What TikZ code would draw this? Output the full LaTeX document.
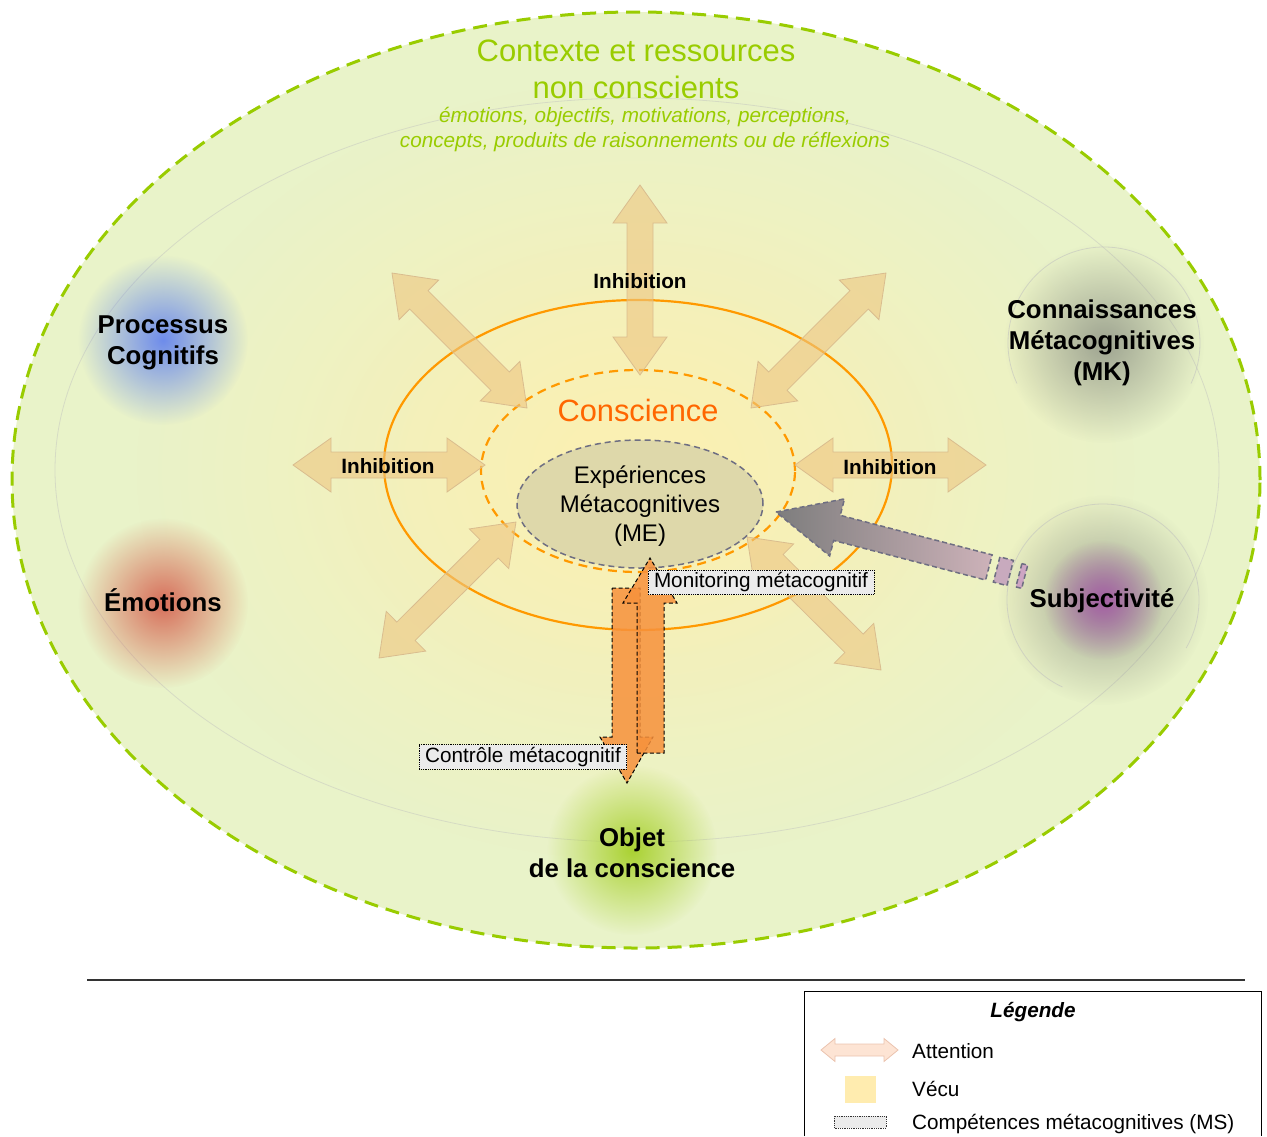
\documentclass[tikz,border=0pt]{standalone}
\usepackage{fontspec}
\setmainfont{Liberation Sans}
\usetikzlibrary{fadings}
\tikzfading[name=blobfade, inner color=transparent!0, outer color=transparent!100]
\definecolor{bggreen}{RGB}{233,243,201}
\definecolor{ctxgreen}{RGB}{153,204,0}
\definecolor{vecu}{RGB}{252,240,178}
\definecolor{consorange}{RGB}{255,153,0}
\definecolor{constext}{RGB}{255,102,0}
\definecolor{mefill}{RGB}{222,216,170}
\definecolor{meline}{RGB}{110,110,130}
\definecolor{attnfill}{RGB}{237,198,130}
\definecolor{attnline}{RGB}{215,185,140}
\definecolor{ctrlorange}{RGB}{247,145,60}
\definecolor{lblgray}{RGB}{235,235,235}
\definecolor{procblue}{RGB}{110,140,235}
\definecolor{emored}{RGB}{215,110,90}
\definecolor{mkgray}{RGB}{145,150,135}
\definecolor{subjpurple}{RGB}{165,95,165}
\definecolor{objgreen}{RGB}{170,210,50}
\definecolor{arrgray}{RGB}{125,125,125}
\definecolor{arrpink}{RGB}{205,178,185}
\definecolor{arrmauve}{RGB}{200,170,190}
\definecolor{arrmauve2}{RGB}{205,165,195}
\definecolor{legattn}{RGB}{253,228,212}
\definecolor{legattnline}{RGB}{235,195,175}
\definecolor{legvecu}{RGB}{255,236,175}
\tikzset{
  attn/.style={fill=attnfill, fill opacity=0.6, draw=attnline, draw opacity=0.9, line width=0.8pt},
  legarrow/.style={fill=legattn, draw=legattnline, line width=0.8pt},
  ctrl/.style={fill=ctrlorange, fill opacity=0.85, draw=black, dash pattern=on 4pt off 2.5pt, line width=1pt},
  lbl/.style={font=\fontsize{20.7}{24}\selectfont, fill=lblgray, draw=black, densely dotted, line width=0.8pt,
              inner xsep=6pt, inner ysep=2.5pt, text height=15pt, text depth=4.5pt},
  bigl/.style={font=\fontsize{25.8}{31}\selectfont\bfseries, align=center},
  inh/.style={font=\fontsize{20.7}{24}\selectfont\bfseries},
  legtext/.style={font=\fontsize{20.7}{24}\selectfont, anchor=base west, inner sep=0pt},
  blobring/.style={draw=gray!50, line width=0.8pt, draw opacity=0.55},
}
% double arrow between two points (pixel coords, y down)
\newcommand{\dblarrow}[8]{%
  \pgfmathsetmacro{\aang}{atan2((#3)-(#5),(#4)-(#2))}%
  \pgfmathsetmacro{\alen}{veclen((#4)-(#2),(#5)-(#3))}%
  \begin{scope}[shift={(#2,#3)}, rotate=\aang]
    \filldraw[#1] (0,0) -- (#6,#7) -- (#6,#8) -- (\alen-#6,#8) -- (\alen-#6,#7) -- (\alen,0)
      -- (\alen-#6,-#7) -- (\alen-#6,-#8) -- (#6,-#8) -- (#6,-#7) -- cycle;
  \end{scope}}
\begin{document}
\begin{tikzpicture}[x=1pt,y=-1pt]
\useasboundingbox (0,0) rectangle (1267,1136);

% outer context ellipse
\fill[bggreen] (636,480) ellipse [x radius=624pt, y radius=468pt];
\begin{scope}
  \clip (636,480) ellipse [x radius=624pt, y radius=468pt];
  \fill[vecu, path fading=blobfade] (637,470) ellipse [x radius=500pt, y radius=390pt];
  \fill[vecu, path fading=blobfade, opacity=0.5] (637,470) ellipse [x radius=300pt, y radius=230pt];
\end{scope}
% faint inner ellipse
\draw[gray!50, line width=0.8pt, draw opacity=0.45] (637,470) ellipse [x radius=582pt, y radius=372pt];

% blobs
\coordinate (mkc) at (1104,343);
\coordinate (subjc) at (1103,600);
\fill[procblue, path fading=blobfade] (163,340) circle (85pt);
\fill[emored, path fading=blobfade] (163,603) circle (85pt);
\fill[mkgray, path fading=blobfade, opacity=0.85] (mkc) circle (100pt);
\fill[mkgray, path fading=blobfade, opacity=0.85] (subjc) circle (105pt);
\fill[subjpurple, path fading=blobfade] (subjc) circle (60pt);
\fill[objgreen, path fading=blobfade] (632,850) circle (85pt);
\draw[blobring] (mkc) ++(205:96pt) arc[start angle=205, end angle=-25, radius=96pt];
\draw[blobring] (subjc) ++(245:96pt) arc[start angle=245, end angle=-30, radius=96pt];

% conscience ellipses
\draw[consorange, line width=2.2pt] (638,465) ellipse [x radius=254pt, y radius=165pt];
\draw[consorange, line width=2.2pt, dash pattern=on 9pt off 6pt] (638,471) ellipse [x radius=157pt, y radius=101pt];
\coordinate (mecenter) at (640,504);
\filldraw[fill=mefill, draw=meline, line width=1.5pt, dash pattern=on 6pt off 4pt] (mecenter) ellipse [x radius=123pt, y radius=64pt];

% attention / inhibition arrows
\dblarrow{attn}{640}{185}{640}{375}{38}{27}{13}
\dblarrow{attn}{392}{273}{527}{408}{38}{28}{13}
\dblarrow{attn}{886}{273}{751}{408}{38}{28}{13}
\dblarrow{attn}{293}{465}{485}{465}{38}{27}{13}
\dblarrow{attn}{795}{465}{986}{465}{38}{27}{13}
\dblarrow{attn}{379}{658}{516}{522}{38}{28}{13}
\dblarrow{attn}{881}{670}{747}{537}{38}{28}{13}

\node[inh] (inhtop) at (640,281) {Inhibition};
\node[inh] (inhleft) at (388,466) {Inhibition};
\node[inh] (inhright) at (890,467) {Inhibition};

% outer dashed border
\draw[ctxgreen, line width=3pt, dash pattern=on 14pt off 8pt] (636,480) ellipse [x radius=624pt, y radius=468pt];

% texts
\node[text=ctxgreen, font=\fontsize{31}{37}\selectfont, align=center] (ctx) at (636,69) {Contexte et ressources\\non conscients};
\node[text=ctxgreen, font=\fontsize{20.7}{25}\selectfont\itshape, align=center] (ctxsub) at (645,130)
  {émotions, objectifs, motivations, perceptions,\\concepts, produits de raisonnements ou de réflexions};
\node[text=constext, font=\fontsize{30.8}{36}\selectfont] (cons) at (638,410) {Conscience};
\node[font=\fontsize{24}{29}\selectfont, align=center] (me) at (640,506) {Expériences\\Métacognitives\\(ME)};

% control / monitoring arrows
\coordinate (ctrltip) at (627,783);
\coordinate (montip) at (650,558);
\filldraw[ctrl] (612,588) -- (640,588) -- (640,737) -- (653,737) -- (ctrltip) -- (600,737) -- (612,737) -- cycle;
\filldraw[ctrl] (637,753) -- (637,603) -- (623,603) -- (montip) -- (677,603) -- (664,603) -- (664,753) -- cycle;
\node[lbl] (monlbl) at (761,582.5) {Monitoring métacognitif};
\node[lbl] (ctrllbl) at (523,757) {Contrôle métacognitif};

% subjectivity arrow
\coordinate (subjtip) at (776,512);
\begin{scope}[shift={(subjtip)}, rotate=-14.6]
  \shade[left color=arrgray, right color=arrpink]
    (0,0) -- (63,-30) -- (63,-13) -- (220,-13) -- (220,13) -- (63,13) -- (63,29) -- cycle;
  \draw[meline, line width=1.5pt, dash pattern=on 5pt off 3pt]
    (0,0) -- (63,-30) -- (63,-13) -- (220,-13) -- (220,13) -- (63,13) -- (63,29) -- cycle;
  \filldraw[fill=arrmauve, draw=meline, line width=1.5pt, dash pattern=on 5pt off 3pt] (228,-13) rectangle (242,13);
  \filldraw[fill=arrmauve2, draw=meline, line width=1.5pt, dash pattern=on 5pt off 3pt] (251,-12) rectangle (257,12);
\end{scope}

% blob labels
\node[bigl] (proc) at (163,343) {Processus\\Cognitifs};
\node[bigl] (emo) at (163,600) {Émotions};
\node[bigl] (mk) at (1102,343) {Connaissances\\Métacognitives\\(MK)};
\node[bigl] (subj) at (1102,601) {Subjectivité};
\node[bigl] (obj) at (632,853) {Objet\\de la conscience};

% separator line
\coordinate (sepL) at (87,980);
\coordinate (sepR) at (1245,980);
\draw[black!80, line width=1.2pt] (sepL) -- (sepR);

% legend
\draw[black, line width=1pt] (804,1136) -- (804,991) -- (1261,991) -- (1261,1136);
\node[font=\fontsize{20.7}{24}\selectfont\bfseries\itshape] (legtitle) at (1033,1012) {Légende};
\dblarrow{legarrow}{821}{1050}{898}{1050}{14}{11.5}{6}
\fill[legvecu] (845,1076) rectangle (876,1103);
\filldraw[fill=lblgray, draw=black!80, densely dotted, line width=0.8pt] (834,1116) rectangle (886,1128);
\node[legtext] (legattn) at (912,1058.5) {Attention};
\node[legtext] (legvecu) at (912,1096.5) {Vécu};
\node[legtext] (legms) at (912,1129.5) {Compétences métacognitives (MS)};
\end{tikzpicture}
\end{document}
